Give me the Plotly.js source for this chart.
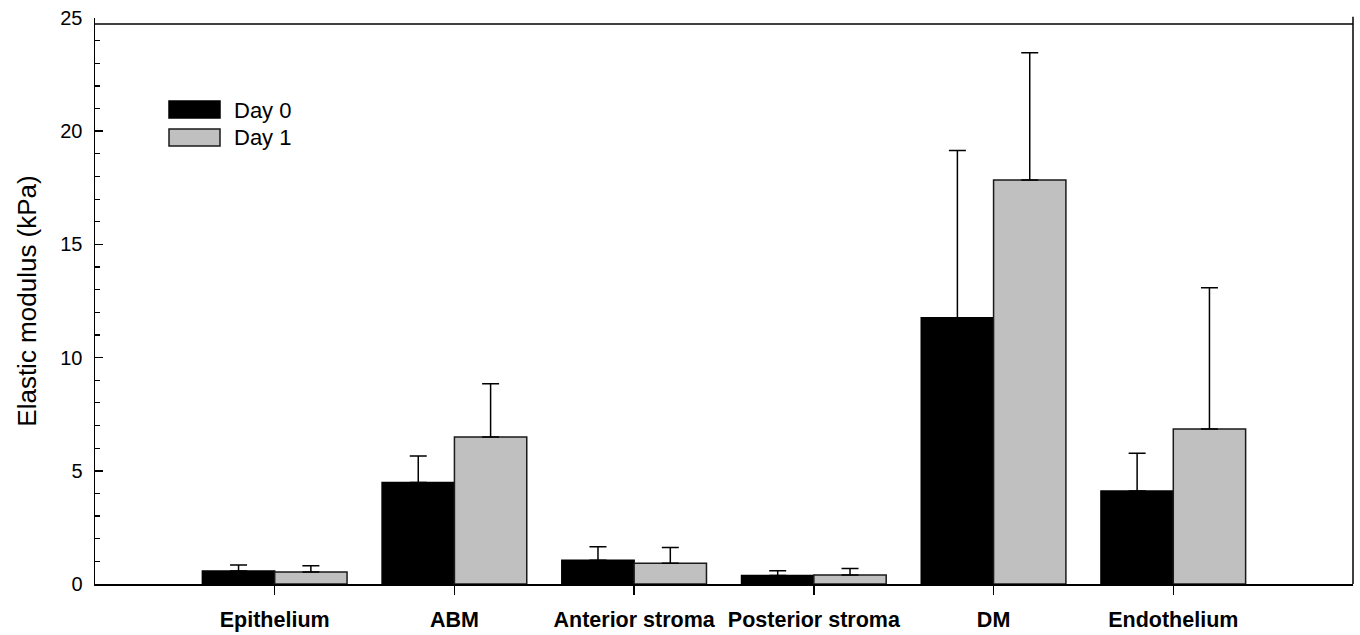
<!DOCTYPE html>
<html>
<head>
<meta charset="utf-8">
<script src="https://cdn.plot.ly/plotly-3.0.1.min.js"></script>
<style>html,body{margin:0;padding:0;background:#fff;}#chart{width:1360px;height:635px;}</style>
</head>
<body>
<div id="chart"></div>
<script>
const categories = ["Epithelium", "ABM", "Anterior stroma", "Posterior stroma", "DM", "Endothelium"];
const day0Values = [0.57, 4.48, 1.05, 0.37, 11.76, 4.11];
const day0Errors = [0.27, 1.17, 0.59, 0.21, 7.39, 1.67];
const day1Values = [0.53, 6.49, 0.92, 0.40, 17.85, 6.85];
const day1Errors = [0.28, 2.36, 0.69, 0.28, 5.62, 6.23];
const seriesNames = ["Day 0", "Day 1"];
const yTicks = [0, 5, 10, 15, 20, 25];

const FONT = "Liberation Sans, Arial, sans-serif";
const zeros = categories.map(() => 0);

const traces = [
  {
    type: "bar", name: seriesNames[0], x: categories, y: day0Values,
    marker: {color: "#000000", line: {color: "#000000", width: 1.5}},
    error_y: {type: "data", symmetric: false, array: day0Errors, arrayminus: zeros,
              color: "#000000", thickness: 1.5, width: 8.5},
    showlegend: false
  },
  {
    type: "bar", name: seriesNames[1], x: categories, y: day1Values,
    marker: {color: "#c0c0c0", line: {color: "#1a1a1a", width: 1.5}},
    error_y: {type: "data", symmetric: false, array: day1Errors, arrayminus: zeros,
              color: "#000000", thickness: 1.5, width: 8.5},
    showlegend: false
  }
];

function px2paperX(px) { return (px - 95) / (1360 - 95 - 7); }
function px2paperY(py) { return (584 - py) / 566; }

const layout = {
  width: 1360, height: 635,
  margin: {l: 95, r: 7, t: 18, b: 51, pad: 0},
  paper_bgcolor: "#ffffff", plot_bgcolor: "#ffffff",
  font: {family: FONT, color: "#000000", size: 20},
  barmode: "group", bargap: 0.195, bargroupgap: 0,
  xaxis: {
    type: "category", categoryorder: "array", categoryarray: categories,
    range: [-1, 6], showline: true, linecolor: "#000000", linewidth: 1.5,
    ticks: "outside", ticklen: 9, tickwidth: 1.5, tickcolor: "#000000",
    tickfont: {family: FONT, size: 21.5, color: "#000000", weight: "bold"},
    ticklabelstandoff: 7,
    showgrid: false, zeroline: false, fixedrange: true
  },
  yaxis: {
    range: [0, 25], tickvals: yTicks, ticktext: yTicks.map(String),
    showline: true, linecolor: "#000000", linewidth: 1.5,
    ticks: "inside", ticklen: 8, tickwidth: 1.5, tickcolor: "#000000",
    minor: {dtick: 1, ticks: "inside", ticklen: 5, tickwidth: 1.2, tickcolor: "#000000", showgrid: false},
    tickfont: {family: FONT, size: 20, color: "#000000"},
    ticklabelstandoff: 7,
    showgrid: false, zeroline: false, fixedrange: true,
    title: {text: "Elastic modulus (kPa)", font: {family: FONT, size: 26, color: "#000000"}, standoff: 16}
  },
  shapes: [
    {type: "line", xref: "paper", yref: "y", x0: 0, x1: 1, y0: 24.74, y1: 24.74,
     line: {color: "#000000", width: 1.5}},
    {type: "line", xref: "paper", yref: "paper", x0: 1, x1: 1, y0: 0, y1: 1.002,
     line: {color: "#000000", width: 1.5}},
    {type: "rect", xref: "paper", yref: "paper",
     x0: px2paperX(169), x1: px2paperX(220), y0: px2paperY(118), y1: px2paperY(101),
     fillcolor: "#000000", line: {color: "#000000", width: 1.5}},
    {type: "rect", xref: "paper", yref: "paper",
     x0: px2paperX(169), x1: px2paperX(220), y0: px2paperY(146), y1: px2paperY(129),
     fillcolor: "#c0c0c0", line: {color: "#1a1a1a", width: 1.5}}
  ],
  annotations: [
    {xref: "paper", yref: "paper", x: px2paperX(232), y: px2paperY(110), xanchor: "left", yanchor: "middle",
     text: seriesNames[0], showarrow: false, font: {family: FONT, size: 22, color: "#000000"}},
    {xref: "paper", yref: "paper", x: px2paperX(232), y: px2paperY(138), xanchor: "left", yanchor: "middle",
     text: seriesNames[1], showarrow: false, font: {family: FONT, size: 22, color: "#000000"}}
  ]
};

Plotly.newPlot("chart", traces, layout, {displayModeBar: false, staticPlot: true});
</script>
</body>
</html>
